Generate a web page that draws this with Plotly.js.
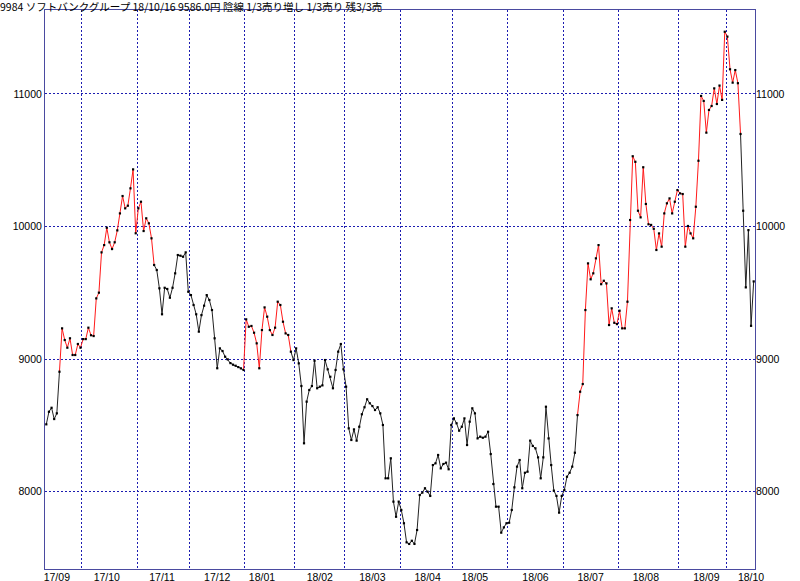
<!DOCTYPE html>
<html>
<head>
<meta charset="utf-8">
<script src="https://cdn.plot.ly/plotly-3.0.1.min.js"></script>
<style>
  html, body { margin: 0; padding: 0; background: #fff; }
  #chart { width: 800px; height: 581px; }
</style>
</head>
<body>
<div id="chart"></div>
<script>
// ---- Data (daily closes, 2017/09/11 .. 2018/10/16) ----
const closeSep17 = [8508, 8603, 8633, 8548, 8591, 8905, 9232, 9144, 9086, 9157, 9031, 9031, 9114, 9086];
const closeOct17 = [9151, 9151, 9237, 9180, 9174, 9458, 9501, 9805, 9860, 9991, 9881, 9830, 9881, 9971, 10099, 10230, 10137, 10157, 10288, 10431, 9949];
const closeNov17 = [10137, 10187, 9966, 10062, 10024, 9911, 9710, 9672, 9534, 9338, 9538, 9529, 9463, 9538, 9647, 9785, 9780, 9772, 9805, 9508];
const closeDec17 = [9483, 9408, 9338, 9207, 9332, 9403, 9483, 9446, 9370, 9157, 8931, 9081, 9061, 9018, 8998, 8970, 8958, 8950, 8940, 8930, 8918];
const closeJan18 = [9300, 9244, 9250, 9199, 9119, 8931, 9219, 9390, 9320, 9219, 9182, 9237, 9433, 9408, 9282, 9194, 9182, 9056, 8993];
const closeFeb18 = [9081, 8968, 8797, 8365, 8679, 8767, 8797, 8988, 8780, 8792, 8802, 8993, 8923, 8867, 8780, 8918, 9056, 9114, 8923];
const closeMar18 = [8792, 8478, 8390, 8470, 8385, 8490, 8584, 8637, 8697, 8667, 8646, 8616, 8637, 8591, 8503, 8101, 8101, 8252, 7925, 7811, 7925];
const closeApr18 = [7862, 7762, 7618, 7606, 7630, 7606, 7711, 7975, 7993, 8026, 8000, 7968, 8201, 8214, 8277, 8176, 8209, 8219, 8169, 8503];
const closeMay18 = [8553, 8516, 8460, 8490, 8553, 8352, 8528, 8629, 8591, 8402, 8415, 8407, 8415, 8452, 8284, 8058, 7887, 7887, 7691, 7731, 7762];
const closeJun18 = [7766, 7862, 8033, 8189, 8239, 8026, 8143, 8151, 8385, 8345, 8327, 8259, 8101, 8259, 8641, 8402, 8201, 8008, 7968, 7842, 7968];
const closeJul18 = [8013, 8113, 8143, 8189, 8294, 8578, 8754, 8812, 9370, 9722, 9602, 9647, 9760, 9860, 9565, 9591, 9571, 9257, 9383, 9274, 9264];
const closeAug18 = [9365, 9232, 9232, 9433, 10049, 10530, 10488, 10119, 10069, 10447, 10170, 10017, 10012, 9983, 9823, 9948, 9848, 10099, 10175, 10212, 10099, 10187, 10275];
const closeSep18 = [10250, 10245, 9848, 10004, 9948, 9911, 10149, 10496, 10985, 10947, 10708, 10879, 10909, 11042, 10924, 11063, 10955, 11469];
const closeOct18 = [11432, 11186, 11085, 11180, 11081, 10698, 10119, 9541, 9973, 9251, 9586];

// Signal runs (state "up" = red line, "down" = black line)
const runStart = [0, 5, 41, 75, 93, 202, 264];
const runEnd   = [5, 41, 75, 93, 202, 264, 269];
const runState = ["down", "up", "down", "up", "down", "up", "down"];

// Month labels, index of first trading day of each month, index of label day (~15th)
const monthLabels   = ["17/09", "17/10", "17/11", "17/12", "18/01", "18/02", "18/03", "18/04", "18/05", "18/06", "18/07", "18/08", "18/09", "18/10"];
const monthFirstIdx = [0, 14, 35, 55, 76, 95, 114, 135, 155, 176, 197, 218, 241, 259];
const monthLabelIdx = [4, 23, 44, 65, 82, 104, 124, 145, 163, 186, 207, 228, 251, 268];

const yTicks = [8000, 9000, 10000, 11000];
const titleText = "9984 ソフトバンクグループ 18/10/16 9586.0円 陰線 1/3売り増し 1/3売り 残3/3売";

// ---- Build ----
const closes = [].concat(closeSep17, closeOct17, closeNov17, closeDec17, closeJan18, closeFeb18,
  closeMar18, closeApr18, closeMay18, closeJun18, closeJul18, closeAug18, closeSep18, closeOct18);
const idx = closes.map((_, i) => i);
const n = closes.length;

const stateColor = { up: "#ff1a1a", down: "#222222" };
const traces = [];
runStart.forEach((s, k) => {
  const e = runEnd[k];
  traces.push({
    type: "scatter", mode: "lines",
    x: idx.slice(s, e + 1), y: closes.slice(s, e + 1),
    line: { color: stateColor[runState[k]], width: 1 },
    hoverinfo: "skip"
  });
});
traces.push({
  type: "scatter", mode: "markers",
  x: idx, y: closes,
  marker: { color: "#000", size: 2.2, symbol: "square" },
  hoverinfo: "skip"
});
// helper trace so the secondary (label) axes are drawn
traces.push({ type: "scatter", mode: "markers", x: [idx[0]], y: [closes[0]], xaxis: "x2", yaxis: "y2",
  marker: { opacity: 0 }, hoverinfo: "skip" });

const xRange = [-0.5, n - 0.5];
const yRange = [7417, 11633];
const gridCol = "#1c1cb0";
const frameCol = "#4a4aa0";
const gridDash = "2px,2px";
const tickFont = { family: "Liberation Sans, Arial, sans-serif", size: 10.5, color: "#000" };

const layout = {
  width: 800, height: 581,
  margin: { l: 45, r: 45, t: 10, b: 12, pad: 0 },
  paper_bgcolor: "#fff", plot_bgcolor: "#fff",
  showlegend: false,
  title: {
    text: titleText,
    xref: "container", yref: "container",
    x: 0, xanchor: "left", y: 1 - 7 / 581, yanchor: "middle",
    pad: { l: 0, t: 0 },
    font: { family: "Noto Sans CJK JP, sans-serif", size: 10.5, color: "#000" }
  },
  xaxis: {
    range: xRange, tickmode: "array",
    tickvals: monthFirstIdx.slice(1).map(v => v - 0.5),
    ticktext: monthFirstIdx.slice(1).map(() => ""),
    showgrid: true, gridcolor: gridCol, griddash: gridDash, gridwidth: 1,
    showline: true, linecolor: frameCol, linewidth: 1, mirror: true,
    ticks: "", zeroline: false, fixedrange: true
  },
  xaxis2: {
    overlaying: "x", anchor: "y", side: "bottom",
    range: xRange, tickmode: "array",
    tickvals: monthLabelIdx, ticktext: monthLabels,
    showgrid: false, showline: false, ticks: "", zeroline: false,
    tickfont: tickFont, fixedrange: true
  },
  yaxis: {
    range: yRange, tickmode: "array", tickvals: yTicks, ticktext: yTicks.map(String),
    showgrid: true, gridcolor: gridCol, griddash: gridDash, gridwidth: 1,
    showline: true, linecolor: frameCol, linewidth: 1, mirror: true,
    ticks: "", zeroline: false, tickfont: tickFont, fixedrange: true
  },
  yaxis2: {
    overlaying: "y", anchor: "x", side: "right",
    range: yRange, tickmode: "array", tickvals: yTicks, ticktext: yTicks.map(String),
    showgrid: false, showline: false, ticks: "", zeroline: false,
    tickfont: tickFont, fixedrange: true
  }
};

Plotly.newPlot("chart", traces, layout, { staticPlot: true, displayModeBar: false });
</script>
</body>
</html>
